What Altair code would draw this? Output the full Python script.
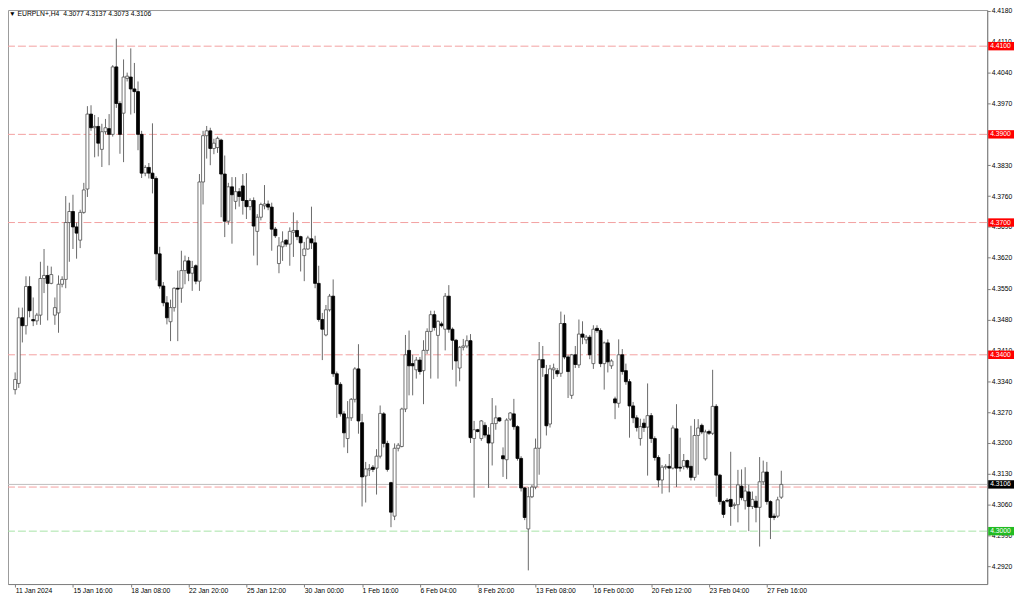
import altair as alt
import pandas as pd

# ---------------- data ----------------
opens = [4.3321, 4.3335, 4.3484, 4.3466, 4.3555, 4.3480, 4.3477, 4.3490, 4.3573, 4.3580,
         4.3562, 4.3490, 4.3495, 4.3560, 4.3571, 4.3700, 4.3725, 4.3690, 4.3660, 4.3723,
         4.3776, 4.3946, 4.3915, 4.3918, 4.3866, 4.3906, 4.3913, 4.3900, 4.4053, 4.3970,
         4.3948, 4.4027, 4.4030, 4.4003, 4.3997, 4.3900, 4.3812, 4.3825, 4.3812, 4.3800,
         4.3629, 4.3556, 4.3518, 4.3475, 4.3507, 4.3551, 4.3551, 4.3591, 4.3613, 4.3585,
         4.3602, 4.3567, 4.3792, 4.3897, 4.3908, 4.3868, 4.3870, 4.3887, 4.3810, 4.3703,
         4.3781, 4.3748, 4.3770, 4.3783, 4.3750, 4.3736, 4.3750, 4.3680, 4.3712, 4.3738,
         4.3742, 4.3735, 4.3685, 4.3607, 4.3645, 4.3660, 4.3651, 4.3678, 4.3682, 4.3668,
         4.3625, 4.3640, 4.3663, 4.3654, 4.3562, 4.3480, 4.3445, 4.3502, 4.3533, 4.3357,
         4.3333, 4.3266, 4.3210, 4.3257, 4.3299, 4.3368, 4.3246, 4.3125, 4.3139, 4.3145,
         4.3143, 4.3170, 4.3266, 4.3199, 4.3110, 4.3034, 4.3188, 4.3192, 4.3277, 4.3410,
         4.3380, 4.3366, 4.3388, 4.3364, 4.3410, 4.3453, 4.3491, 4.3444, 4.3470, 4.3458,
         4.3533, 4.3458, 4.3433, 4.3370, 4.3417, 4.3420, 4.3432, 4.3210, 4.3230, 4.3210,
         4.3240, 4.3218, 4.3200, 4.3244, 4.3257, 4.3171, 4.3162, 4.3254, 4.3266, 4.3237,
         4.3165, 4.3098, 4.3005, 4.3078, 4.3100, 4.3188, 4.3389, 4.3355, 4.3243, 4.3366,
         4.3364, 4.3358, 4.3471, 4.3395, 4.3308, 4.3400, 4.3377, 4.3447, 4.3434, 4.3440,
         4.3380, 4.3460, 4.3455, 4.3380, 4.3427, 4.3375, 4.3300, 4.3290, 4.3400, 4.3364,
         4.3339, 4.3284, 4.3257, 4.3210, 4.3245, 4.3236, 4.3262, 4.3210, 4.3167, 4.3116,
         4.3145, 4.3147, 4.3143, 4.3232, 4.3145, 4.3147, 4.3160, 4.3147, 4.3122, 4.3217,
         4.3240, 4.3164, 4.3226, 4.3222, 4.3283, 4.3127, 4.3067, 4.3070, 4.3072, 4.3058,
         4.3060, 4.3102, 4.3069, 4.3089, 4.3056, 4.3068, 4.3054, 4.3112, 4.3134, 4.3067,
         4.3034, 4.3034, 4.3077]
highs = [4.3360, 4.3507, 4.3507, 4.3578, 4.3578, 4.3530, 4.3495, 4.3611, 4.3640, 4.3602,
         4.3600, 4.3530, 4.3580, 4.3578, 4.3760, 4.3745, 4.3763, 4.3700, 4.3729, 4.3790,
         4.3964, 4.3966, 4.3944, 4.3939, 4.3924, 4.3935, 4.3946, 4.4057, 4.4117, 4.3975,
         4.4070, 4.4040, 4.4095, 4.4062, 4.4020, 4.3908, 4.3830, 4.3835, 4.3925, 4.3805,
         4.3645, 4.3565, 4.3533, 4.3525, 4.3553, 4.3591, 4.3636, 4.3625, 4.3622, 4.3613,
         4.3605, 4.3810, 4.3908, 4.3919, 4.3915, 4.3890, 4.3895, 4.3890, 4.3852, 4.3790,
         4.3803, 4.3803, 4.3778, 4.3810, 4.3812, 4.3755, 4.3757, 4.3719, 4.3745, 4.3785,
         4.3750, 4.3745, 4.3690, 4.3667, 4.3680, 4.3662, 4.3689, 4.3723, 4.3705, 4.3670,
         4.3656, 4.3670, 4.3736, 4.3670, 4.3602, 4.3495, 4.3513, 4.3538, 4.3571, 4.3362,
         4.3338, 4.3272, 4.3295, 4.3302, 4.3372, 4.3424, 4.3266, 4.3157, 4.3152, 4.3150,
         4.3186, 4.3285, 4.3270, 4.3205, 4.3112, 4.3199, 4.3200, 4.3280, 4.3445, 4.3455,
         4.3400, 4.3395, 4.3395, 4.3433, 4.3460, 4.3500, 4.3500, 4.3478, 4.3475, 4.3540,
         4.3558, 4.3462, 4.3436, 4.3420, 4.3436, 4.3444, 4.3447, 4.3250, 4.3232, 4.3252,
         4.3247, 4.3236, 4.3302, 4.3285, 4.3258, 4.3190, 4.3256, 4.3270, 4.3300, 4.3240,
         4.3170, 4.3100, 4.3100, 4.3105, 4.3210, 4.3429, 4.3420, 4.3377, 4.3377, 4.3380,
         4.3370, 4.3498, 4.3491, 4.3400, 4.3402, 4.3420, 4.3480, 4.3476, 4.3445, 4.3445,
         4.3467, 4.3467, 4.3460, 4.3430, 4.3435, 4.3390, 4.3305, 4.3435, 4.3413, 4.3380,
         4.3345, 4.3293, 4.3263, 4.3255, 4.3255, 4.3335, 4.3268, 4.3215, 4.3172, 4.3150,
         4.3152, 4.3175, 4.3240, 4.3288, 4.3212, 4.3175, 4.3162, 4.3239, 4.3254, 4.3254,
         4.3244, 4.3230, 4.3230, 4.3366, 4.3288, 4.3130, 4.3070, 4.3075, 4.3180, 4.3065,
         4.3139, 4.3140, 4.3145, 4.3105, 4.3090, 4.3080, 4.3168, 4.3160, 4.3157, 4.3070,
         4.3040, 4.3078, 4.3137]
lows = [4.3310, 4.3325, 4.3428, 4.3446, 4.3485, 4.3465, 4.3468, 4.3468, 4.3540, 4.3478,
        4.3560, 4.3468, 4.3450, 4.3553, 4.3551, 4.3611, 4.3640, 4.3618, 4.3642, 4.3720,
        4.3758, 4.3908, 4.3848, 4.3850, 4.3826, 4.3900, 4.3830, 4.3895, 4.3960, 4.3856,
        4.3837, 4.4020, 4.3945, 4.3948, 4.3864, 4.3801, 4.3805, 4.3800, 4.3766, 4.3569,
        4.3550, 4.3510, 4.3469, 4.3431, 4.3498, 4.3431, 4.3518, 4.3560, 4.3567, 4.3545,
        4.3560, 4.3545, 4.3741, 4.3845, 4.3830, 4.3855, 4.3858, 4.3712, 4.3667, 4.3695,
        4.3652, 4.3730, 4.3736, 4.3718, 4.3708, 4.3728, 4.3625, 4.3603, 4.3705, 4.3730,
        4.3728, 4.3636, 4.3665, 4.3585, 4.3613, 4.3645, 4.3602, 4.3622, 4.3660, 4.3589,
        4.3567, 4.3638, 4.3640, 4.3551, 4.3475, 4.3388, 4.3442, 4.3498, 4.3350, 4.3257,
        4.3260, 4.3190, 4.3177, 4.3250, 4.3292, 4.3221, 4.3056, 4.3065, 4.3125, 4.3134,
        4.3083, 4.3165, 4.3190, 4.3135, 4.3009, 4.3025, 4.3181, 4.3190, 4.3270, 4.3308,
        4.3308, 4.3346, 4.3355, 4.3288, 4.3402, 4.3346, 4.3455, 4.3346, 4.3462, 4.3410,
        4.3450, 4.3366, 4.3328, 4.3340, 4.3410, 4.3415, 4.3200, 4.3076, 4.3224, 4.3205,
        4.3212, 4.3098, 4.3149, 4.3230, 4.3248, 4.3123, 4.3118, 4.3250, 4.3230, 4.3160,
        4.3090, 4.3025, 4.2911, 4.3075, 4.3095, 4.3128, 4.3350, 4.3217, 4.3235, 4.3345,
        4.3350, 4.3350, 4.3390, 4.3302, 4.3300, 4.3370, 4.3370, 4.3424, 4.3425, 4.3390,
        4.3368, 4.3450, 4.3372, 4.3321, 4.3360, 4.3368, 4.3254, 4.3280, 4.3355, 4.3332,
        4.3212, 4.3245, 4.3226, 4.3194, 4.3225, 4.3126, 4.3200, 4.3160, 4.3100, 4.3085,
        4.3140, 4.3088, 4.3140, 4.3100, 4.3135, 4.3140, 4.3140, 4.3115, 4.3115, 4.3128,
        4.3220, 4.3160, 4.3218, 4.3218, 4.3078, 4.3060, 4.3030, 4.3065, 4.3012, 4.3050,
        4.3020, 4.3070, 4.3049, 4.3000, 4.3050, 4.3020, 4.2965, 4.3105, 4.3060, 4.2982,
        4.3025, 4.3030, 4.3073]
closes = [4.3344, 4.3484, 4.3466, 4.3555, 4.3500, 4.3477, 4.3490, 4.3573, 4.3580, 4.3562,
          4.3582, 4.3507, 4.3560, 4.3571, 4.3700, 4.3725, 4.3690, 4.3676, 4.3723, 4.3774,
          4.3946, 4.3915, 4.3918, 4.3880, 4.3906, 4.3915, 4.3900, 4.4053, 4.3970, 4.3900,
          4.4030, 4.4032, 4.4003, 4.3997, 4.3900, 4.3812, 4.3825, 4.3812, 4.3800, 4.3629,
          4.3556, 4.3518, 4.3484, 4.3507, 4.3551, 4.3549, 4.3591, 4.3613, 4.3585, 4.3598,
          4.3567, 4.3792, 4.3897, 4.3908, 4.3868, 4.3880, 4.3891, 4.3810, 4.3703, 4.3781,
          4.3763, 4.3770, 4.3759, 4.3750, 4.3736, 4.3750, 4.3692, 4.3712, 4.3741, 4.3742,
          4.3735, 4.3685, 4.3670, 4.3647, 4.3656, 4.3651, 4.3680, 4.3682, 4.3668, 4.3654,
          4.3640, 4.3665, 4.3654, 4.3562, 4.3480, 4.3458, 4.3502, 4.3533, 4.3357, 4.3333,
          4.3266, 4.3223, 4.3257, 4.3299, 4.3368, 4.3250, 4.3123, 4.3141, 4.3142, 4.3140,
          4.3170, 4.3267, 4.3199, 4.3140, 4.3043, 4.3188, 4.3195, 4.3277, 4.3400, 4.3375,
          4.3375, 4.3388, 4.3362, 4.3410, 4.3453, 4.3491, 4.3462, 4.3476, 4.3466, 4.3533,
          4.3458, 4.3433, 4.3386, 4.3417, 4.3420, 4.3432, 4.3212, 4.3230, 4.3226, 4.3250,
          4.3218, 4.3200, 4.3244, 4.3257, 4.3250, 4.3164, 4.3252, 4.3268, 4.3237, 4.3165,
          4.3098, 4.3031, 4.3078, 4.3100, 4.3188, 4.3389, 4.3371, 4.3239, 4.3368, 4.3370,
          4.3357, 4.3471, 4.3395, 4.3362, 4.3400, 4.3378, 4.3447, 4.3440, 4.3440, 4.3400,
          4.3458, 4.3455, 4.3380, 4.3427, 4.3384, 4.3386, 4.3291, 4.3400, 4.3362, 4.3339,
          4.3284, 4.3257, 4.3235, 4.3237, 4.3235, 4.3262, 4.3210, 4.3167, 4.3116, 4.3145,
          4.3147, 4.3143, 4.3234, 4.3143, 4.3143, 4.3160, 4.3145, 4.3122, 4.3217, 4.3234,
          4.3225, 4.3225, 4.3222, 4.3283, 4.3127, 4.3067, 4.3038, 4.3068, 4.3056, 4.3060,
          4.3105, 4.3076, 4.3091, 4.3056, 4.3072, 4.3054, 4.3112, 4.3134, 4.3067, 4.3031,
          4.3031, 4.3071, 4.3106]

x_tick_bars = [0, 16, 32, 48, 64, 80, 96, 112, 128, 144, 160, 176, 192, 208]
x_tick_labels = ["11 Jan 2024", "15 Jan 16:00", "18 Jan 08:00", "22 Jan 20:00",
                 "25 Jan 12:00", "30 Jan 00:00", "1 Feb 16:00", "6 Feb 04:00",
                 "8 Feb 20:00", "13 Feb 08:00", "16 Feb 00:00", "20 Feb 12:00",
                 "23 Feb 04:00", "27 Feb 16:00"]
y_ticks = [4.2920, 4.2990, 4.3060, 4.3130, 4.3200, 4.3270, 4.3340, 4.3410, 4.3480,
           4.3550, 4.3620, 4.3690, 4.3760, 4.3830, 4.3900, 4.3970, 4.4040, 4.4110, 4.4180]

red_levels = [4.4100, 4.3900, 4.3700, 4.3400, 4.3100]
green_levels = [4.3000]
bid_price = 4.3106
header = "\u25BC EURPLN+,H4\u00a0 4.3077 4.3137 4.3073 4.3106"

label_prices = [4.4100, 4.3900, 4.3700, 4.3400, 4.3000, 4.3106]
label_texts = ["4.4100", "4.3900", "4.3700", "4.3400", "4.3000", "4.3106"]
label_colors = ["#ff0000", "#ff0000", "#ff0000", "#ff0000", "#22bb22", "#000000"]

# ---------------- tables ----------------
n = len(opens)
df = pd.DataFrame({"i": list(range(n)), "open": opens, "high": highs,
                   "low": lows, "close": closes})
df["body_lo"] = df[["open", "close"]].min(axis=1)
df["body_hi"] = df[["open", "close"]].max(axis=1)
df["dir"] = ["up" if c >= o else "down" for o, c in zip(opens, closes)]

lev = pd.DataFrame({"price": red_levels + green_levels,
                    "col": ["#f3a0a0"] * len(red_levels) + ["#a6e3a6"] * len(green_levels)})
bid = pd.DataFrame({"price": [bid_price]})
lab = pd.DataFrame({"price": label_prices, "text": label_texts, "col": label_colors})
lab["lo"] = lab["price"] - 0.00095
lab["hi"] = lab["price"] + 0.00095
hdr = pd.DataFrame({"t": [header]})

W, H = 986, 578
FONT = "Liberation Sans"
xs = alt.Scale(domain=[-0.6, 267.6], nice=False, zero=False)
ys = alt.Scale(domain=[4.2880, 4.4182], nice=False, zero=False)

labels_js = "[" + ",".join("'%s'" % s for s in x_tick_labels) + "]"
values_js = "[" + ",".join(str(v) for v in x_tick_bars) + "]"

x_axis = alt.Axis(values=x_tick_bars, labelExpr=f"{labels_js}[indexof({values_js}, datum.value)]",
                  labelAlign="left", labelPadding=1, tickSize=3, title=None, grid=False,
                  labelFont=FONT, labelFontSize=6.8, labelColor="#000", labelOverlap=False,
                  labelFlush=False, domainColor="#808080", tickColor="#808080")
y_axis = alt.Axis(values=y_ticks, format=".4f", orient="right", tickSize=3, labelPadding=1,
                  title=None, grid=False, labelFont=FONT, labelFontSize=6.8, labelColor="#000",
                  labelOverlap=False, labelFlush=False, labelBound=False,
                  domainColor="#808080", tickColor="#808080")

levels = alt.Chart(lev).mark_rule(strokeDash=[8, 3], strokeWidth=1).encode(
    y=alt.Y("price:Q", scale=ys, axis=y_axis),
    color=alt.Color("col:N", scale=None),
)
bidline = alt.Chart(bid).mark_rule(color="#bdbdbd", strokeWidth=1).encode(
    y=alt.Y("price:Q", scale=ys, axis=y_axis)
)
wicks = alt.Chart(df).mark_rule(color="#6a6a6a", strokeWidth=1).encode(
    x=alt.X("i:Q", scale=xs, axis=x_axis),
    y=alt.Y("low:Q", scale=ys, axis=y_axis),
    y2="high:Q",
)
bodies = alt.Chart(df).mark_bar(size=3, strokeWidth=0.8).encode(
    x=alt.X("i:Q", scale=xs, axis=x_axis),
    y=alt.Y("body_lo:Q", scale=ys, axis=y_axis),
    y2="body_hi:Q",
    fill=alt.Fill("dir:N", scale=alt.Scale(domain=["up", "down"], range=["#ffffff", "#000000"]),
                  legend=None),
    stroke=alt.Stroke("dir:N", scale=alt.Scale(domain=["up", "down"], range=["#505050", "#000000"]),
                      legend=None),
)
boxes = alt.Chart(lab).mark_rect().encode(
    x=alt.value(W + 1), x2=alt.value(W + 27),
    y=alt.Y("lo:Q", scale=ys, axis=y_axis), y2="hi:Q",
    fill=alt.Fill("col:N", scale=None),
)
box_text = alt.Chart(lab).mark_text(align="left", baseline="middle", font=FONT,
                                    fontSize=6.8, color="#ffffff").encode(
    x=alt.value(W + 3), y=alt.Y("price:Q", scale=ys, axis=y_axis), text="text:N"
)
head = alt.Chart(hdr).mark_text(align="left", baseline="middle", font=FONT,
                                fontSize=6.8, color="#000000").encode(
    x=alt.value(1), y=alt.value(4), text="t:N"
)

chart = alt.layer(levels, bidline, wicks, bodies, boxes, box_text, head).properties(
    width=W, height=H,
    autosize=alt.AutoSizeParams(type="none"),
    padding={"left": 0, "top": 0, "right": 29, "bottom": 12},
    background="white",
).configure_view(stroke="#9a9a9a", strokeWidth=1).configure_axis(labelOverlap=False)

chart.save("out.html", embed_options={"renderer": "svg", "actions": False})
